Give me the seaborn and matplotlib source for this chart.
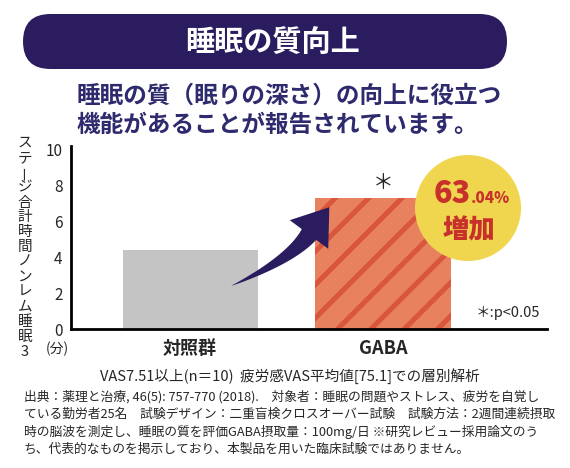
import matplotlib.pyplot as plt
import numpy as np
import pandas as pd
import seaborn as sns
from matplotlib.patches import FancyBboxPatch, Ellipse, Polygon

# Daten
groups = ["対照群", "GABA"]
minutes = [4.4, 7.3]
y_ticks = [0, 2, 4, 6, 8, 10]
increase_big = "63"
increase_small = ".04%"

title = "睡眠の質向上"
subtitle = ["睡眠の質（眠りの深さ）の向上に役立つ", "機能があることが報告されています。"]
ylabel = "ステージ合計時間ノンレム睡眠3"
note_vas = "VAS7.51以上(n＝10)  疲労感VAS平均値[75.1]での層別解析"
footnote = [
    "出典：薬理と治療, 46(5): 757-770 (2018).　対象者：睡眠の問題やストレス、疲労を自覚し",
    "ている勤労者25名　試験デザイン：二重盲検クロスオーバー試験　試験方法：2週間連続摂取",
    "時の脳波を測定し、睡眠の質を評価GABA摂取量：100mg/日 ※研究レビュー採用論文のう",
    "ち、代表的なものを掲示しており、本製品を用いた臨床試験ではありません。",
]

navy = "#2b1c5f"
gray = "#c4c4c4"
orange = "#e8825e"
stripe = "#d9553b"
yellow = "#f0d64e"
red = "#c8302b"

sns.set_style("white")
plt.rcParams["font.family"] = ["Noto Sans CJK JP", "DejaVu Sans"]
plt.rcParams["hatch.linewidth"] = 3.6

df = pd.DataFrame({"group": groups, "min": minutes})

fig = plt.figure(figsize=(5.7, 4.68), dpi=100)
ax = fig.add_axes([71 / 570, (468 - 329) / 468, (547 - 71) / 570, 183 / 468])

sns.barplot(data=df, x="group", y="min", hue="group", palette=[gray, orange],
            width=0.7, saturation=1, legend=False, ax=ax)
bar = ax.patches[1]
bar.set_hatch("/")
bar.set_edgecolor(stripe)
bar.set_linewidth(0)
ax.patches[0].set_linewidth(0)

ax.set_xlim(-0.617, 1.85)
ax.set_ylim(0, 10.2)
ax.set_yticks(y_ticks)
ax.set_yticklabels([str(t) for t in y_ticks], fontsize=11)
ax.set_xticks(range(len(groups)))
ax.set_xticklabels(groups, fontsize=13, fontweight="bold")
ax.tick_params(axis="both", length=0)
ax.tick_params(axis="x", pad=7)
ax.tick_params(axis="y", pad=6)
ax.set_xlabel("")
ax.set_ylabel("")
for s in ["top", "right"]:
    ax.spines[s].set_visible(False)
for s in ["left", "bottom"]:
    ax.spines[s].set_color("black")
    ax.spines[s].set_linewidth(2)

# Signifikanz
ax.text(1, minutes[1] + 0.25, "＊", ha="center", va="bottom", fontsize=15)
ax.text(0.985, 0.05, "＊:p<0.05", transform=ax.transAxes, ha="right",
        va="bottom", fontsize=10.5)

# Overlay in Pixelkoordinaten
ov = fig.add_axes([0, 0, 1, 1], zorder=5)
ov.set_xlim(0, 570)
ov.set_ylim(468, 0)
ov.axis("off")

ov.add_patch(FancyBboxPatch((23, 14), 484, 55,
                            boxstyle="round,pad=0,rounding_size=27.5",
                            fc=navy, ec="none"))
ov.text(273, 42, title, color="white", fontsize=21, fontweight="bold",
        ha="center", va="center")
ov.text(77, 96, subtitle[0], color="#2e2a6e", fontsize=17, fontweight="bold",
        ha="left", va="center")
ov.text(77, 125, subtitle[1], color="#2e2a6e", fontsize=17, fontweight="bold",
        ha="left", va="center")

# y label vertikal
for i, ch in enumerate(ylabel):
    ov.text(25, 143 + i * 14.9, ch, fontsize=10.5, ha="center", va="center",
            rotation=90 if ch == "ー" else 0)
ov.text(57, 349, "(分)", fontsize=10, ha="center", va="center")

# Pfeil: spitz zulaufender Schaft + Spitze
p0 = np.array([231, 286])
p1 = np.array([290, 260])
p2 = np.array([309, 234.5])
t = np.linspace(0, 1, 40)[:, None]
pts = (1 - t) ** 2 * p0 + 2 * (1 - t) * t * p1 + t ** 2 * p2
der = 2 * (1 - t) * (p1 - p0) + 2 * t * (p2 - p1)
der = der / np.linalg.norm(der, axis=1, keepdims=True)
nrm = np.column_stack([-der[:, 1], der[:, 0]])
w = 9 * t[:, 0] ** 0.9
left = pts + nrm * w[:, None]
right = pts - nrm * w[:, None]
d = der[-1]
n = nrm[-1]
head = [p2 + n * 24, p2 + d * 34, p2 - n * 24]
shape = np.vstack([left, head, right[::-1]])
ov.add_patch(Polygon(shape, closed=True, fc=navy, ec="none"))

# Badge
ov.add_patch(Ellipse((468, 208), 106, 106, fc=yellow, ec="none"))
ov.text(471, 203, increase_big, color=red, fontsize=22, fontweight="heavy",
        ha="right", va="baseline")
ov.text(471, 203, increase_small, color=red, fontsize=11, fontweight="heavy",
        ha="left", va="baseline")
ov.text(469, 230, "増加", color=red, fontsize=19, fontweight="heavy",
        ha="center", va="center")

ov.text(290, 376, note_vas, fontsize=10.5, ha="center", va="center")
for i, line in enumerate(footnote):
    ov.text(24, 397 + i * 17.3, line, fontsize=9.2, ha="left", va="center")

fig.savefig("out.png", dpi=100)
